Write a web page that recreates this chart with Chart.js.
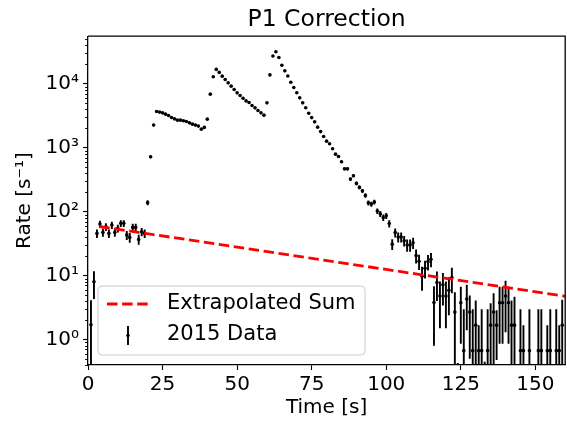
<!DOCTYPE html>
<html>
<head>
<meta charset="utf-8">
<script src="https://cdn.jsdelivr.net/npm/chart.js@4.4.0/dist/chart.umd.min.js"></script>
<style>
  html, body { margin: 0; padding: 0; background: #fff; }
</style>
</head>
<body>
<canvas id="rateChart" width="567" height="422"></canvas>
<script>
// 2015 data, 1 s bins
var times = [
  1, 2, 3, 4, 5, 6, 7, 8, 9, 10,
  11, 12, 13, 14, 15, 16, 17, 18, 19, 20,
  21, 22, 23, 24, 25, 26, 27, 28, 29, 30,
  31, 32, 33, 34, 35, 36, 37, 38, 39, 40,
  41, 42, 43, 44, 45, 46, 47, 48, 49, 50,
  51, 52, 53, 54, 55, 56, 57, 58, 59, 60,
  61, 62, 63, 64, 65, 66, 67, 68, 69, 70,
  71, 72, 73, 74, 75, 76, 77, 78, 79, 80,
  81, 82, 83, 84, 85, 86, 87, 88, 89, 90,
  91, 92, 93, 94, 95, 96, 97, 98, 99, 100,
  101, 102, 103, 104, 105, 106, 107, 108, 109, 110,
  111, 112, 113, 114, 115, 116, 117, 118, 119, 120,
  121, 122, 123, 124, 125, 126, 127, 128, 129, 130,
  131, 132, 133, 134, 135, 136, 137, 138, 139, 140,
  141, 142, 143, 144, 145, 146, 147, 148, 149, 150,
  151, 152, 153, 154, 155, 156, 157, 158, 159, 160
];
var rates = [
  1.7, 8.0, 45.6, 63.8, 47.3, 57.9, 45.6, 61.5, 47.3, 54.6,
  65.5, 65.5, 42.9, 39.5, 56.6, 56.6, 36.8, 48.3, 45.6, 138,
  718, 2250, 3680, 3590, 3500, 3340, 3180, 2960, 2820, 2690,
  2690, 2625, 2560, 2440, 2330, 2250, 2170, 1945, 2070, 2790,
  6850, 12800, 16700, 15000, 13100, 11640, 10300, 9140, 8110, 7180,
  6530, 5930, 5380, 5080, 4560, 4190, 3800, 3500, 3220, 5010,
  13700, 27000, 31600, 25700, 19400, 15850, 13200, 10500, 8720, 7200,
  6000, 5010, 4200, 3450, 2950, 2530, 2090, 1780, 1490, 1262,
  1150, 960, 791, 725, 600, 466, 466, 322, 363, 276,
  239, 211, 179, 137, 131, 141, 102, 92, 81, 86,
  65, 31, 47, 40, 40, 35, 30, 30, 32.6, 20.5,
  16.7, 9.8, 13, 16.5, 18, 3.8, 7.8, 4.8, 7.2, 4.8,
  5.9, 9.3, 2.7, -1, 3.76, 0.67, 4.3, 2.7, 0.67, 1.68,
  0.67, 0.67, -1, 0.67, 1.68, 2.7, 1.68, 3.76, 3.76, 4.8,
  3.76, 1.68, 1.68, null, 0.67, 0.67, null, 0.67, null, null,
  0.67, 0.67, null, 0.67, 0.67, null, 0.67, 0.67, 1.68, null
];
var rateErr = [
  2.4, 3.7, 7, 8, 7, 8, 7, 8, 7, 7.5,
  8, 8, 7, 7, 8, 8, 6.5, 7, 7, 12,
  27, 47, 61, 60, 59, 58, 56, 54, 53, 52,
  52, 51, 51, 49, 48, 47, 47, 44, 46, 53,
  83, 113, 129, 122, 114, 108, 101, 96, 90, 85,
  81, 77, 73, 71, 68, 65, 62, 59, 57, 71,
  117, 164, 178, 160, 139, 126, 115, 102, 93, 85,
  77, 71, 65, 59, 54, 50, 46, 42, 39, 36,
  34, 31, 28, 27, 25, 22, 22, 18, 19, 17,
  16, 15, 14, 12, 12, 12, 10, 10, 9.5, 9.5,
  8.5, 6, 7.5, 7, 7, 6.5, 6.5, 6.5, 6.5, 5,
  4.5, 4, 4, 4.5, 4.5, 3, 3.8, 3.3, 3.8, 3.3,
  3.5, 4, 2.8, 1.43, 2.9, 2.3, 2.9, 2.2, 2.3, 2.4,
  1.0, 2.3, 1.45, 2.3, 2.0, 2.6, 1.2, 2.9, 2.9, 3.5,
  2.9, 2.4, 3.0, 0, 2.3, 1.0, 0, 2.3, 0, 0,
  2.3, 2.3, 0, 1.0, 2.3, 0, 2.3, 1.0, 2.5, 0
];

// extrapolated sum (straight on the log axis)
var sumTimes = [3.8, 160];
var sumRates = [58.5, 4.75];

var xTicks = [0, 25, 50, 75, 100, 125, 150];
var yTicks = [1, 10, 100, 1000, 10000];

var FONT = 'DejaVu Sans';
var sup = { '0': '\u2070', '1': '\u00b9', '2': '\u00b2', '3': '\u00b3', '4': '\u2074' };

var dataPoints = times.map(function (t, i) { return { x: t, y: rates[i] }; });
var sumPoints = sumTimes.map(function (t, i) { return { x: t, y: sumRates[i] }; });

// vertical error bars, drawn under the markers
var errorBars = {
  id: 'errorBars',
  beforeDatasetsDraw: function (chart) {
    var ctx = chart.ctx, xs = chart.scales.x, ys = chart.scales.y, a = chart.chartArea;
    ctx.save();
    ctx.beginPath();
    ctx.rect(a.left, a.top, a.right - a.left, a.bottom - a.top);
    ctx.clip();
    ctx.strokeStyle = '#000';
    ctx.lineWidth = 1.9;
    times.forEach(function (t, i) {
      var v = rates[i], e = rateErr[i];
      if (v === null || e === 0) return;
      var hi = v + e, lo = v - e;
      if (hi <= 0) return;
      var px = xs.getPixelForValue(t);
      var yTop = ys.getPixelForValue(hi);
      var yBot = lo > 0 ? ys.getPixelForValue(lo) : a.bottom + 5;
      ctx.beginPath();
      ctx.moveTo(px, yTop);
      ctx.lineTo(px, yBot);
      ctx.stroke();
    });
    ctx.restore();
  }
};

// top/right spines and minor log ticks
var axisExtras = {
  id: 'axisExtras',
  afterDraw: function (chart) {
    var ctx = chart.ctx, ys = chart.scales.y, a = chart.chartArea;
    ctx.save();
    ctx.strokeStyle = '#000';
    ctx.lineWidth = 1.3;
    ctx.beginPath();
    ctx.moveTo(a.left, a.top);
    ctx.lineTo(a.right, a.top);
    ctx.lineTo(a.right, a.bottom);
    ctx.stroke();
    ctx.lineWidth = 0.9;
    for (var d = -1; d <= 4; d++) {
      for (var m = 2; m <= 9; m++) {
        var v = m * Math.pow(10, d);
        if (v < ys.min || v > ys.max) continue;
        var py = Math.round(ys.getPixelForValue(v)) + 0.5;
        ctx.beginPath();
        ctx.moveTo(a.left - 3, py);
        ctx.lineTo(a.left, py);
        ctx.stroke();
      }
    }
    ctx.restore();
  }
};

// matplotlib-like legend box in the lower left
var boxLegend = {
  id: 'boxLegend',
  afterDraw: function (chart) {
    var ctx = chart.ctx;
    var x0 = 98, y0 = 286, w = 267, h = 69, r = 4;
    ctx.save();
    ctx.beginPath();
    ctx.moveTo(x0 + r, y0);
    ctx.arcTo(x0 + w, y0, x0 + w, y0 + h, r);
    ctx.arcTo(x0 + w, y0 + h, x0, y0 + h, r);
    ctx.arcTo(x0, y0 + h, x0, y0, r);
    ctx.arcTo(x0, y0, x0 + w, y0, r);
    ctx.closePath();
    ctx.fillStyle = 'rgba(255,255,255,0.8)';
    ctx.fill();
    ctx.strokeStyle = '#cccccc';
    ctx.lineWidth = 1;
    ctx.stroke();

    // dashed red sample
    ctx.strokeStyle = '#ff0000';
    ctx.lineWidth = 2.8;
    ctx.setLineDash([10.5, 4.6]);
    ctx.beginPath();
    ctx.moveTo(107, 304);
    ctx.lineTo(148, 304);
    ctx.stroke();
    ctx.setLineDash([]);

    // error bar sample
    ctx.strokeStyle = '#000';
    ctx.lineWidth = 1.9;
    ctx.beginPath();
    ctx.moveTo(128, 326);
    ctx.lineTo(128, 345);
    ctx.stroke();
    ctx.fillStyle = '#000';
    ctx.beginPath();
    ctx.arc(128, 335.5, 1.8, 0, Math.PI * 2);
    ctx.fill();

    ctx.fillStyle = '#000';
    ctx.font = '21px "' + FONT + '"';
    ctx.textBaseline = 'middle';
    ctx.textAlign = 'left';
    ctx.fillText(chart.data.datasets[0].label, 167, 304);
    ctx.fillText(chart.data.datasets[1].label, 167, 335);
    ctx.restore();
  }
};

var ctx = document.getElementById('rateChart').getContext('2d');
var rateChart = new Chart(ctx, {
  type: 'scatter',
  data: {
    datasets: [{
      type: 'line',
      label: 'Extrapolated Sum',
      data: sumPoints,
      borderColor: '#ff0000',
      borderWidth: 2.8,
      borderDash: [10.5, 4.6],
      pointRadius: 0,
      fill: false,
      tension: 0
    }, {
      label: '2015 Data',
      data: dataPoints,
      backgroundColor: '#000',
      borderColor: '#000',
      borderWidth: 0,
      pointRadius: 1.8,
      pointHoverRadius: 1.8
    }]
  },
  options: {
    responsive: false,
    animation: false,
    devicePixelRatio: 1,
    layout: { padding: 0 },
    plugins: {
      legend: { display: false },
      tooltip: { enabled: false },
      title: {
        display: true,
        text: 'P1 Correction',
        fullSize: false,
        color: '#000',
        font: { family: FONT, size: 23.5, weight: 'normal', lineHeight: 1.2 },
        padding: { top: 6, bottom: 2 }
      }
    },
    scales: {
      x: {
        type: 'linear',
        min: 0,
        max: 160,
        afterFit: function (s) { s.height = 57; },
        afterBuildTicks: function (s) { s.ticks = xTicks.map(function (v) { return { value: v }; }); },
        ticks: { color: '#000', font: { family: FONT, size: 20 }, padding: 3, maxRotation: 0 },
        grid: { drawOnChartArea: false, drawTicks: true, tickLength: 5, tickColor: '#000', tickWidth: 1.1 },
        border: { display: true, color: '#000', width: 1.3 },
        title: {
          display: true,
          text: 'Time [s]',
          color: '#000',
          font: { family: FONT, size: 20 },
          padding: { top: 0, bottom: 2 }
        }
      },
      y: {
        type: 'logarithmic',
        min: 0.4,
        max: 55200,
        afterFit: function (s) { s.width = 88; },
        afterBuildTicks: function (s) { s.ticks = yTicks.map(function (v) { return { value: v, major: true }; }); },
        ticks: {
          color: '#000',
          font: { family: FONT, size: 20 },
          padding: 4,
          callback: function (v) { return '10' + sup[String(Math.round(Math.log10(v)))]; }
        },
        grid: { drawOnChartArea: false, drawTicks: true, tickLength: 5, tickColor: '#000', tickWidth: 1.1 },
        border: { display: true, color: '#000', width: 1.3 },
        title: {
          display: true,
          text: 'Rate [s\u207b\u00b9]',
          color: '#000',
          font: { family: FONT, size: 20 },
          padding: { top: 13, bottom: 0 }
        }
      }
    }
  },
  plugins: [errorBars, axisExtras, boxLegend]
});
</script>
</body>
</html>
